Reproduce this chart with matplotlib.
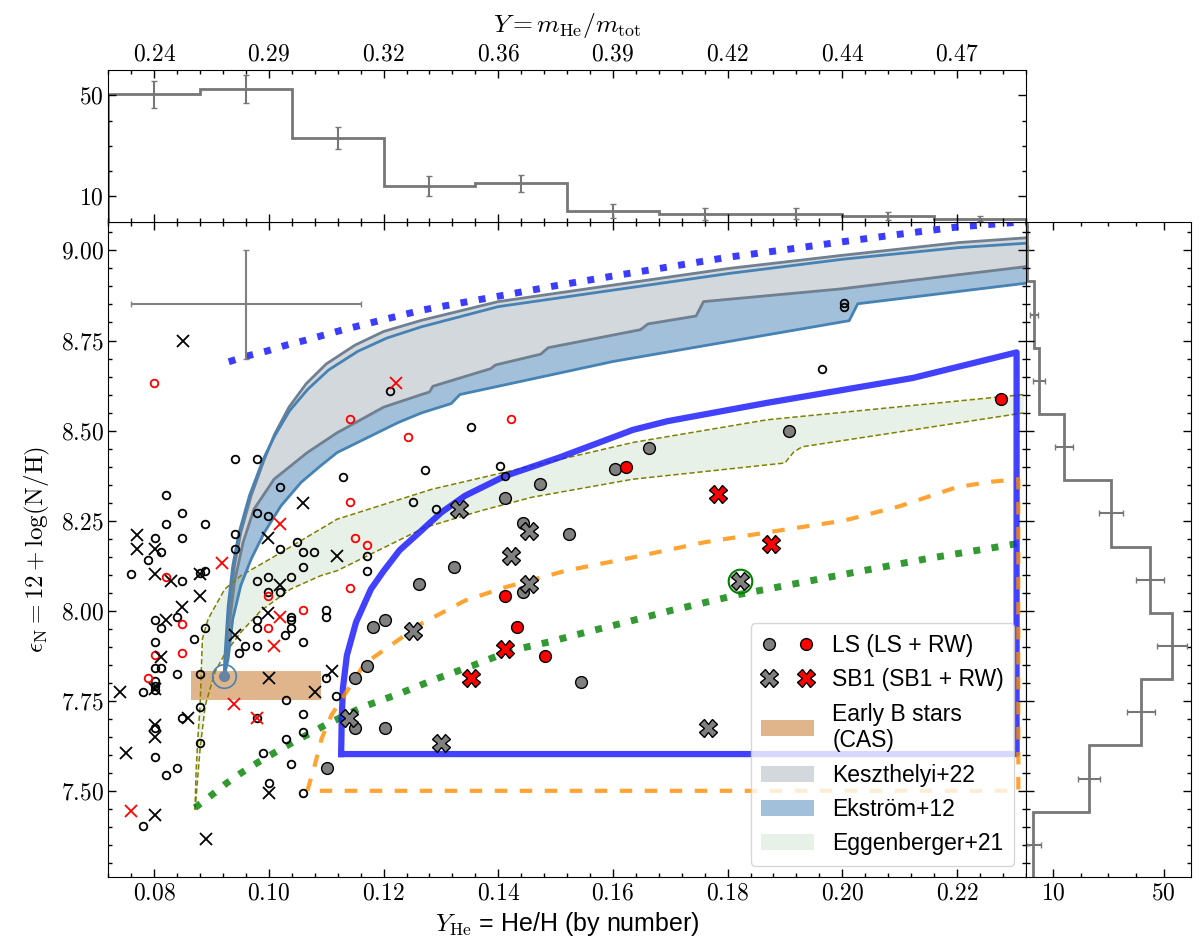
import numpy as np
import matplotlib
matplotlib.use("Agg")
import matplotlib.pyplot as plt
from matplotlib.lines import Line2D
from matplotlib.patches import Patch, Rectangle
from matplotlib.legend_handler import HandlerTuple
from matplotlib.ticker import MultipleLocator, FixedLocator, FuncFormatter

plt.rcParams['font.family'] = ['Liberation Sans', 'DejaVu Sans']
plt.rcParams['mathtext.fontset'] = 'cm'

# ---------------- data ----------------
# small open black circles (comparison sample)
oc_x = [0.0940, 0.0980, 0.1019, 0.0820, 0.0849, 0.0980, 0.0998, 0.0820, 0.0889, 0.0801,
        0.0849, 0.0940, 0.0940, 0.0811, 0.0790, 0.1019, 0.1049, 0.1059, 0.1079, 0.0760,
        0.0889, 0.0879, 0.0849, 0.0980, 0.0998, 0.1038, 0.1059, 0.0998, 0.1019, 0.0801,
        0.0811, 0.0840, 0.0889, 0.0980, 0.0980, 0.1038, 0.1038, 0.1038, 0.1028, 0.1099,
        0.1099, 0.0801, 0.0870, 0.0959, 0.0980, 0.0948, 0.1059, 0.0801, 0.0811, 0.0840,
        0.0879, 0.0801, 0.0801, 0.0801, 0.0780, 0.1030, 0.1099, 0.1117, 0.0879, 0.1060,
        0.0848, 0.0801, 0.1060, 0.1029, 0.0879, 0.0801, 0.0990, 0.1039, 0.0840, 0.0820,
        0.1000, 0.1060, 0.0780, 0.0980, 0.1211, 0.1353, 0.1272, 0.1130, 0.1403, 0.1412,
        0.1251, 0.1292, 0.1171, 0.1171, 0.1964, 0.2003, 0.2003]
oc_y = [8.420, 8.420, 8.342, 8.321, 8.271, 8.271, 8.262, 8.241, 8.241, 8.202,
        8.202, 8.212, 8.171, 8.162, 8.142, 8.171, 8.191, 8.162, 8.162, 8.102,
        8.111, 8.104, 8.082, 8.082, 8.093, 8.093, 8.122, 8.053, 8.053, 7.973,
        7.951, 7.982, 7.951, 7.973, 7.951, 7.982, 7.973, 7.951, 7.933, 8.002,
        7.982, 7.913, 7.922, 7.902, 7.902, 7.882, 7.913, 7.841, 7.841, 7.823,
        7.823, 7.804, 7.790, 7.779, 7.774, 7.753, 7.813, 7.763, 7.733, 7.713,
        7.703, 7.673, 7.664, 7.643, 7.633, 7.593, 7.604, 7.574, 7.564, 7.544,
        7.523, 7.495, 7.403, 7.703, 8.610, 8.511, 8.391, 8.372, 8.402, 8.373,
        8.302, 8.282, 8.153, 8.111, 8.671, 8.853, 8.843]
# small open red circles
orc_x = [0.0820, 0.0998, 0.1059, 0.0849, 0.0998, 0.0849, 0.0801, 0.0790, 0.0800, 0.1142,
         0.1423, 0.1242, 0.1142, 0.1151, 0.1171, 0.1142]
orc_y = [8.093, 8.042, 8.002, 7.963, 7.951, 7.882, 7.876, 7.813, 8.632, 8.531,
         8.531, 8.481, 8.302, 8.203, 8.182, 8.062]
# small black crosses
bx_x = [0.0770, 0.0770, 0.0801, 0.0801, 0.0830, 0.0879, 0.0879, 0.0849, 0.0820, 0.0998,
        0.1059, 0.1019, 0.0998, 0.0940, 0.0811, 0.1118, 0.0741, 0.0801, 0.1000, 0.1080,
        0.1110, 0.0859, 0.0801, 0.0801, 0.0751, 0.1000, 0.0801, 0.0890, 0.0850]
bx_y = [8.211, 8.171, 8.171, 8.102, 8.082, 8.102, 8.042, 8.011, 7.973, 8.202,
        8.300, 8.072, 7.993, 7.933, 7.871, 8.153, 7.774, 7.784, 7.813, 7.774,
        7.832, 7.703, 7.682, 7.650, 7.604, 7.493, 7.433, 7.366, 8.750]
# small red crosses
rx_x = [0.0919, 0.1019, 0.1019, 0.1009, 0.0939, 0.0980, 0.0760, 0.1221]
rx_y = [8.131, 8.241, 7.982, 7.902, 7.742, 7.703, 7.444, 8.631]
# LS (grey) and LS+RW (red)
ls_x = [0.1604, 0.1473, 0.1412, 0.1443, 0.1523, 0.1322, 0.1261, 0.1181, 0.1202, 0.1443,
        0.1171, 0.1151, 0.1151, 0.1202, 0.1544, 0.1101, 0.1663, 0.1907]
ls_y = [8.393, 8.353, 8.313, 8.243, 8.213, 8.122, 8.073, 7.955, 7.975, 8.053,
        7.847, 7.813, 7.673, 7.673, 7.802, 7.564, 8.451, 8.500]
lsrw_x = [0.1623, 0.1412, 0.1433, 0.1482, 0.2276]
lsrw_y = [8.400, 8.042, 7.954, 7.873, 8.588]
# SB1 (grey) and SB1+RW (red)
sb_x = [0.1332, 0.1453, 0.1423, 0.1453, 0.1251, 0.1140, 0.1301, 0.1766, 0.1822]
sb_y = [8.282, 8.222, 8.153, 8.073, 7.943, 7.701, 7.633, 7.675, 8.083]
sbrw_x = [0.1412, 0.1353, 0.1784, 0.1875]
sbrw_y = [7.893, 7.813, 8.323, 8.185]
# highlighted SB1 star (green ring)
hl_x, hl_y = [0.1822], [8.083]
# model start point
start_x, start_y = [0.0922], [7.818]
# typical error bar
err_x, err_y, err_dx, err_dy = 0.096, 8.85, 0.02, 0.15
# early-B stars box (CAS)
cas_x0, cas_x1, cas_y0, cas_y1 = 0.0864, 0.1090, 7.751, 7.832

# Keszthelyi+22 band
k_up_x = [0.0922, 0.0925, 0.0932, 0.0940, 0.0951, 0.0969, 0.0992, 0.1010, 0.1035, 0.1065,
          0.1100, 0.1150, 0.1200, 0.1266, 0.1400, 0.1601, 0.1802, 0.2003, 0.2204, 0.2320]
k_up_y = [7.818, 7.867, 8.014, 8.125, 8.217, 8.319, 8.420, 8.490, 8.565, 8.630,
          8.685, 8.737, 8.775, 8.806, 8.858, 8.904, 8.950, 8.987, 9.022, 9.035]
k_lo_x = [0.0922, 0.0930, 0.0940, 0.0955, 0.0974, 0.1009, 0.1067, 0.1119, 0.1200, 0.1266,
          0.1280, 0.1286, 0.1387, 0.1395, 0.1474, 0.1487, 0.1648, 0.1661, 0.1745, 0.1758,
          0.1996, 0.2320]
k_lo_y = [7.818, 7.950, 8.080, 8.190, 8.282, 8.365, 8.439, 8.494, 8.565, 8.600,
          8.607, 8.623, 8.672, 8.682, 8.712, 8.730, 8.780, 8.796, 8.818, 8.858,
          8.893, 8.955]
# Ekstroem+12 band
e_up_x = [0.0922, 0.0923, 0.0929, 0.0937, 0.0948, 0.0966, 0.0990, 0.1010, 0.1036, 0.1068,
          0.1104, 0.1155, 0.1206, 0.1266, 0.1400, 0.1601, 0.1802, 0.2003, 0.2204, 0.2320]
e_up_y = [7.818, 7.867, 8.014, 8.125, 8.217, 8.319, 8.420, 8.485, 8.555, 8.615,
          8.668, 8.720, 8.757, 8.788, 8.844, 8.890, 8.936, 8.976, 9.008, 9.020]
e_lo_x = [0.0922, 0.0929, 0.0937, 0.0951, 0.0969, 0.0992, 0.1021, 0.1056, 0.1090, 0.1119,
          0.1225, 0.1266, 0.1318, 0.1333, 0.1601, 0.2012, 0.2027, 0.2320]
e_lo_y = [7.818, 7.867, 7.977, 8.070, 8.143, 8.217, 8.291, 8.356, 8.402, 8.439,
          8.522, 8.549, 8.575, 8.600, 8.692, 8.805, 8.852, 8.909]
# Eggenberger+21 band
g_up_x = [0.0871, 0.0873, 0.0876, 0.0880, 0.0884, 0.0894, 0.0923, 0.0951, 0.1009, 0.1067,
          0.1119, 0.1284, 0.1459, 0.1635, 0.1869, 0.2316]
g_up_y = [7.447, 7.553, 7.645, 7.737, 7.922, 7.977, 8.060, 8.097, 8.150, 8.205,
          8.254, 8.337, 8.402, 8.467, 8.530, 8.600]
g_lo_x = [0.0871, 0.0872, 0.0880, 0.0889, 0.0906, 0.0923, 0.0951, 0.0986, 0.1038, 0.1090,
          0.1119, 0.1272, 0.1371, 0.1459, 0.1635, 0.1900, 0.1915, 0.1930, 0.2316]
g_lo_y = [7.447, 7.461, 7.617, 7.737, 7.830, 7.880, 7.940, 8.000, 8.060, 8.097,
          8.111, 8.231, 8.278, 8.315, 8.365, 8.410, 8.440, 8.455, 8.549]
# upper blue dotted track
bd_x = [0.0930, 0.0962, 0.0997, 0.1030, 0.1062, 0.1130, 0.1200, 0.1266, 0.1330, 0.1400,
        0.1500, 0.1600, 0.1700, 0.1800, 0.1900, 0.2000, 0.2100, 0.2200, 0.2320]
bd_y = [8.691, 8.707, 8.721, 8.737, 8.750, 8.780, 8.808, 8.834, 8.853, 8.873,
        8.902, 8.929, 8.955, 8.981, 9.002, 9.024, 9.045, 9.065, 9.080]
# green dotted track
gd_x = [0.0871, 0.0900, 0.0926, 0.0952, 0.0981, 0.1010, 0.1041, 0.1071, 0.1100, 0.1164,
        0.1228, 0.1292, 0.1356, 0.1424, 0.1488, 0.1555, 0.1623, 0.1700, 0.1820, 0.2000,
        0.2150, 0.2320]
gd_y = [7.453, 7.488, 7.521, 7.550, 7.579, 7.606, 7.634, 7.659, 7.684, 7.733,
        7.770, 7.811, 7.848, 7.890, 7.913, 7.941, 7.968, 8.000, 8.045, 8.100,
        8.145, 8.190]
# thick blue region
bb_x = [0.1126, 0.1127, 0.1129, 0.1136, 0.1152, 0.1178, 0.1200, 0.1228, 0.1263, 0.1278,
        0.1301, 0.1342, 0.1412, 0.1506, 0.1635, 0.1695, 0.1869, 0.2123, 0.2304, 0.2304,
        0.1126]
bb_y = [7.602, 7.700, 7.784, 7.876, 7.968, 8.060, 8.110, 8.168, 8.218, 8.240,
        8.273, 8.319, 8.374, 8.425, 8.502, 8.526, 8.577, 8.646, 8.717, 7.602,
        7.602]
# orange dashed region
od_x = [0.1067, 0.1080, 0.1092, 0.1109, 0.1167, 0.1266, 0.1342, 0.1412, 0.1518, 0.1635,
        0.1760, 0.1900, 0.2003, 0.2100, 0.2200, 0.2260, 0.2307, 0.2307, 0.1067]
od_y = [7.500, 7.571, 7.645, 7.710, 7.853, 7.964, 8.028, 8.065, 8.111, 8.148,
        8.190, 8.225, 8.250, 8.290, 8.343, 8.358, 8.365, 7.500, 7.500]

# histograms
top_edges = [0.072, 0.088, 0.104, 0.120, 0.136, 0.152, 0.168, 0.184, 0.200, 0.216, 0.232]
top_counts = [50.3, 52.6, 33.1, 14.2, 15.2, 4.3, 3.1, 3.1, 2.2, 1.2]
top_err = [5.5, 5.5, 4.5, 4.0, 3.3, 2.8, 2.3, 2.1, 1.6, 1.1]
right_edges = [7.258, 7.442, 7.626, 7.810, 7.994, 8.178, 8.362, 8.546, 8.730, 8.914, 9.098]
right_counts = [2.8, 22.9, 41.8, 53.1, 45.0, 30.9, 14.0, 4.9, 3.0, 0.3]
right_err = [2.7, 3.9, 5.2, 5.3, 5.1, 4.4, 3.3, 2.2, 1.6, 0.6]

# ---------------- figure ----------------
fig = plt.figure(figsize=(12, 9.52), dpi=100)
ax = fig.add_axes([0.0903, 0.0785, 0.7645, 0.6887])
axt = fig.add_axes([0.0903, 0.7672, 0.7645, 0.1593])
axr = fig.add_axes([0.8548, 0.0785, 0.1378, 0.6887])

XL = (0.072, 0.232)
YL = (7.26, 9.08)
TF = 17

def fmt2(v, p):
    return r'$%.2f$' % v

# bands
ax.fill(np.r_[e_up_x, e_lo_x[::-1]], np.r_[e_up_y, e_lo_y[::-1]],
        color='steelblue', alpha=0.5, lw=0, zorder=1)
ax.fill(np.r_[k_up_x, k_lo_x[::-1]], np.r_[k_up_y, k_lo_y[::-1]],
        color='#d3d8dd', lw=0, zorder=1.1)
ax.fill(np.r_[g_up_x, g_lo_x[::-1]], np.r_[g_up_y, g_lo_y[::-1]],
        color='darkseagreen', alpha=0.2, lw=0, zorder=1)
ax.add_patch(Rectangle((cas_x0, cas_y0), cas_x1 - cas_x0, cas_y1 - cas_y0,
                       facecolor='peru', alpha=0.6, lw=0, zorder=1.2))
for xs, ys in [(k_up_x, k_up_y), (k_lo_x, k_lo_y)]:
    ax.plot(xs, ys, color='slategray', lw=2, zorder=2)
for xs, ys in [(e_up_x, e_up_y), (e_lo_x, e_lo_y)]:
    ax.plot(xs, ys, color='steelblue', lw=2, zorder=2.1)
for xs, ys in [(g_up_x, g_up_y), (g_lo_x, g_lo_y)]:
    ax.plot(xs, ys, color='olive', lw=1.1, dashes=(3.5, 1.8), zorder=2)

ax.plot(bd_x, bd_y, color=(0.1, 0.1, 1.0), alpha=0.85, lw=5, ls=':', zorder=2.2)
ax.plot(gd_x, gd_y, color='green', alpha=0.8, lw=5, ls=':', zorder=2.2)
ax.plot(bb_x, bb_y, color=(0.12, 0.12, 1.0), alpha=0.85, lw=4.5, zorder=2.3,
        solid_joinstyle='round')
ax.plot(od_x, od_y, color='darkorange', alpha=0.8, lw=3, dashes=(3, 3), zorder=2.3)

# typical error
ax.errorbar([err_x], [err_y], xerr=[err_dx], yerr=[err_dy], fmt='none',
            ecolor='gray', elinewidth=1.5, capsize=2, zorder=3)

# comparison sample
ax.plot(oc_x, oc_y, 'o', ls='', mfc='none', mec='k', ms=5.5, mew=1.3, zorder=3)
ax.plot(orc_x, orc_y, 'o', ls='', mfc='none', mec='red', ms=5.5, mew=1.3, zorder=3)
ax.plot(bx_x, bx_y, 'x', ls='', color='k', ms=8, mew=1.3, zorder=3)
ax.plot(rx_x, rx_y, 'x', ls='', color='red', ms=8, mew=1.3, zorder=3.1)

# LS / SB1
ax.plot(ls_x, ls_y, 'o', ls='', mfc='gray', mec='k', ms=8.5, mew=1, zorder=4)
ax.plot(lsrw_x, lsrw_y, 'o', ls='', mfc='red', mec='k', ms=8.5, mew=1, zorder=4)
ax.plot(sb_x, sb_y, 'X', ls='', mfc='gray', mec='k', ms=12.5, mew=1, zorder=4)
ax.plot(sbrw_x, sbrw_y, 'X', ls='', mfc='red', mec='k', ms=12.5, mew=1, zorder=4)
ax.plot(hl_x, hl_y, 'o', ls='', mfc='none', mec='green', ms=17, mew=1.5, zorder=4.1)

# model start point
ax.plot(start_x, start_y, 'o', ls='', mfc='none', mec='steelblue', ms=17, mew=1.2, zorder=4)
ax.plot(start_x, start_y, 'o', ls='', mfc='#6684a3', mec='#6684a3', ms=7, zorder=4)

ax.set_xlim(*XL)
ax.set_ylim(*YL)
ax.xaxis.set_major_locator(MultipleLocator(0.02))
ax.xaxis.set_minor_locator(MultipleLocator(0.004))
ax.yaxis.set_major_locator(MultipleLocator(0.25))
ax.yaxis.set_minor_locator(MultipleLocator(0.05))
ax.xaxis.set_major_formatter(FuncFormatter(fmt2))
ax.yaxis.set_major_formatter(FuncFormatter(fmt2))
ax.tick_params(which='both', direction='in', top=True, right=True, width=1)
ax.tick_params(which='major', length=6, labelsize=TF)
ax.tick_params(which='minor', length=3)
ax.set_xlabel(r'$Y_{\rm He}$ = He/H (by number)', fontsize=18, labelpad=4)
ax.set_ylabel(r'$\epsilon_{\rm N} = 12 + \log({\rm N/H})$', fontsize=18, labelpad=6)

# legend
h_ls = (Line2D([], [], marker='o', ls='', mfc='gray', mec='k', ms=8.5),
        Line2D([], [], marker='o', ls='', mfc='red', mec='k', ms=8.5))
h_sb = (Line2D([], [], marker='X', ls='', mfc='gray', mec='k', ms=12.5),
        Line2D([], [], marker='X', ls='', mfc='red', mec='k', ms=12.5))
handles = [h_ls, h_sb,
           Patch(facecolor='peru', alpha=0.6),
           Patch(facecolor='#d3d8dd'),
           Patch(facecolor='steelblue', alpha=0.5),
           Patch(facecolor='darkseagreen', alpha=0.2)]
labels = ['LS (LS + RW)', 'SB1 (SB1 + RW)', 'Early B stars\n(CAS)',
          'Keszthelyi+22', 'Ekström+12', 'Eggenberger+21']
leg = ax.legend(handles, labels, loc='lower right', fontsize=16.5,
                handler_map={tuple: HandlerTuple(ndivide=None, pad=0.9)},
                handlelength=2.3, handletextpad=0.8, labelspacing=0.5,
                framealpha=0.8, borderaxespad=0.5, borderpad=0.45)
leg.set_zorder(10)

# top histogram
axt.stairs(top_counts, top_edges, color='#777777', lw=2)
tc = 0.5 * (np.array(top_edges[:-1]) + np.array(top_edges[1:]))
axt.errorbar(tc, top_counts, yerr=top_err, fmt='none', ecolor='#777777',
             elinewidth=1.5, capsize=2.5)
axt.set_xlim(*XL)
axt.set_ylim(0, 60)
axt.xaxis.set_major_locator(MultipleLocator(0.02))
axt.xaxis.set_minor_locator(MultipleLocator(0.004))
axt.xaxis.set_major_formatter(FuncFormatter(lambda v, p: r'$%.2f$' % (4 * v / (1 + 4 * v))))
axt.yaxis.set_major_locator(FixedLocator([10, 50]))
axt.yaxis.set_minor_locator(FixedLocator([20, 30, 40]))
axt.yaxis.set_major_formatter(FuncFormatter(lambda v, p: r'$%d$' % v))
axt.tick_params(which='both', direction='in', top=True, right=True, bottom=True,
                labelbottom=False, labeltop=True, width=1)
axt.tick_params(which='major', length=6, labelsize=TF)
axt.tick_params(which='minor', length=3)
axt.xaxis.set_label_position('top')
axt.set_xlabel(r'$Y = m_{\rm He}/m_{\rm tot}$', fontsize=18.5, labelpad=8)

# right histogram
axr.stairs(right_counts, right_edges, orientation='horizontal', color='#777777', lw=2)
rc = 0.5 * (np.array(right_edges[:-1]) + np.array(right_edges[1:]))
axr.errorbar(right_counts, rc, xerr=right_err, fmt='none', ecolor='#777777',
             elinewidth=1.5, capsize=2.5)
axr.set_ylim(*YL)
axr.set_xlim(0, 60)
axr.yaxis.set_major_locator(MultipleLocator(0.25))
axr.yaxis.set_minor_locator(MultipleLocator(0.05))
axr.xaxis.set_major_locator(FixedLocator([10, 50]))
axr.xaxis.set_minor_locator(FixedLocator([20, 30, 40]))
axr.xaxis.set_major_formatter(FuncFormatter(lambda v, p: r'$%d$' % v))
axr.tick_params(which='both', direction='in', top=True, right=True, left=True,
                labelleft=False, width=1)
axr.tick_params(which='major', length=6, labelsize=TF)
axr.tick_params(which='minor', length=3)

fig.savefig('out.png', dpi=100)
